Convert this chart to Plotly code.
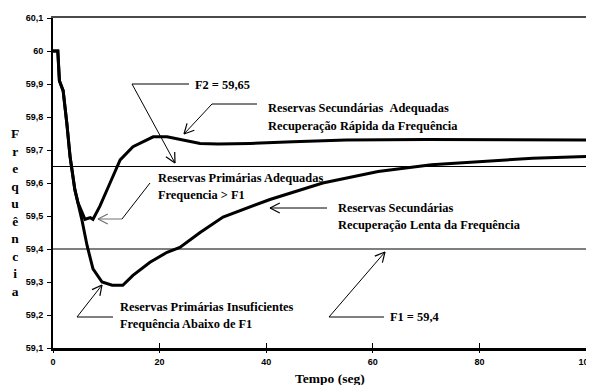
import math
import plotly.graph_objects as go

# ---------------- data ----------------
t_common = [0, 0.9, 1.2, 1.9, 2.6, 3.2, 4.1, 4.7]
f_common = [60.0, 60.0, 59.91, 59.88, 59.78, 59.68, 59.58, 59.54]

t_fast = [6.0, 7.0, 7.5, 8.8, 10.7, 12.6, 15.0, 18.8, 21.4, 24.4, 27.6, 31.0, 37.0, 45.0, 55.0, 70.0, 85.0, 100.0]
f_fast = [59.49, 59.495, 59.49, 59.53, 59.60, 59.67, 59.71, 59.74, 59.74, 59.73, 59.72, 59.718, 59.72, 59.725, 59.73, 59.732, 59.731, 59.73]

t_slow = [5.4, 6.4, 7.5, 9.2, 11.1, 13.1, 15.0, 18.2, 21.4, 23.8, 27.6, 31.9, 40.7, 50.6, 61.0, 71.0, 80.0, 90.0, 100.0]
f_slow = [59.49, 59.41, 59.34, 59.30, 59.29, 59.29, 59.32, 59.36, 59.39, 59.405, 59.45, 59.497, 59.55, 59.60, 59.635, 59.655, 59.665, 59.675, 59.68]

F1 = 59.4
F2 = 59.65

x_ticks = [0, 20, 40, 60, 80, 100]
x_ticktext = ["0", "20", "40", "60", "80", "100"]
y_ticks = [59.1, 59.2, 59.3, 59.4, 59.5, 59.6, 59.7, 59.8, 59.9, 60.0, 60.1]
y_ticktext = ["59,1", "59,2", "59,3", "59,4", "59,5", "59,6", "59,7", "59,8", "59,9", "60", "60,1"]

# ---------------- layout geometry (screen pixels) ----------------
OFF = 8  # default page body margin
W_FIG, H_FIG = 594 - OFF, 385 - OFF
L, R, T, B = 53, 586, 18, 348


def px(x):
    return (x - L) / (R - L)


def py(y):
    return (B - y) / (B - T)


fig = go.Figure()

fig.add_trace(go.Scatter(x=t_common + t_fast, y=f_common + f_fast, mode="lines",
                         line=dict(color="black", width=3), hoverinfo="skip"))
fig.add_trace(go.Scatter(x=t_common + t_slow, y=f_common + f_slow, mode="lines",
                         line=dict(color="black", width=3), hoverinfo="skip"))

shapes = []
for v in (F1, F2):
    shapes.append(dict(type="line", xref="paper", yref="y", x0=0, x1=1, y0=v, y1=v,
                       line=dict(color="black", width=1.2)))


def connector(points, color="black", width=1, seg_colors=None):
    for i in range(len(points) - 1):
        c = seg_colors[i] if seg_colors else color
        (x0, y0), (x1, y1) = points[i], points[i + 1]
        shapes.append(dict(type="line", xref="paper", yref="paper",
                           x0=px(x0), y0=py(y0), x1=px(x1), y1=py(y1),
                           line=dict(color=c, width=width)))
    (sx, sy), (tx, ty) = points[-2], points[-1]
    d = math.hypot(tx - sx, ty - sy)
    ux, uy = (tx - sx) / d, (ty - sy) / d
    ln, th = 11, math.radians(27)
    c = seg_colors[-1] if seg_colors else color
    for s in (1, -1):
        cx = ux * math.cos(s * th) - uy * math.sin(s * th)
        cy = ux * math.sin(s * th) + uy * math.cos(s * th)
        shapes.append(dict(type="line", xref="paper", yref="paper",
                           x0=px(tx), y0=py(ty), x1=px(tx - ln * cx), y1=py(ty - ln * cy),
                           line=dict(color=c, width=1.2)))


connector([(189, 84), (132, 84), (175, 163)])
connector([(257, 104), (212, 104), (184, 134)])
connector([(150, 183), (122, 219), (98, 219)], seg_colors=["black", "#707070"])
connector([(327, 208), (270, 208)])
connector([(113, 317), (77, 317), (102, 285)])
connector([(384, 317), (329, 317), (385, 252)])

serif = "Liberation Serif"
ann = []


def label(text, x, y, size=12.4):
    ann.append(dict(text="<b>" + text + "</b>", xref="paper", yref="paper",
                    x=px(x), y=py(y), xanchor="left", yanchor="middle", showarrow=False,
                    font=dict(family=serif, size=size, color="black")))


label("F2 = 59,65", 193, 85)
label("Reservas Secundárias\u00a0\u00a0Adequadas", 266, 108)
label("Recuperação Rápida da Frequência", 266, 126)
label("Reservas Primárias Adequadas", 156, 178)
label("Frequencia &gt; F1", 156, 195)
label("Reservas Secundárias", 336, 208)
label("Recuperação Lenta da Frequência", 336, 225)
label("Reservas Primárias Insuficientes", 118, 307)
label("Frequência Abaixo de F1", 118, 324)
label("F1 = 59,4", 388, 317)

ann.append(dict(text="<b>" + "<br>".join(list("Frequência")) + "</b>", xref="paper", yref="paper",
                x=px(15), y=py(212), xanchor="center", yanchor="middle", showarrow=False,
                font=dict(family=serif, size=13.5, color="black")))
ann.append(dict(text="<b>Tempo (seg)</b>", xref="paper", yref="paper",
                x=px(330), y=py(378), xanchor="center", yanchor="middle", showarrow=False,
                font=dict(family=serif, size=13.5, color="black")))

tickfont = dict(family="Liberation Sans", size=9, color="black")
blank = dict(showgrid=False, zeroline=False, showticklabels=False)

fig.update_layout(
    width=W_FIG, height=H_FIG,
    margin=dict(l=L - OFF, r=W_FIG - (R - OFF), t=T - OFF, b=H_FIG - (B - OFF), pad=0),
    paper_bgcolor="white", plot_bgcolor="white",
    showlegend=False,
    shapes=shapes, annotations=ann,
    xaxis=dict(range=[0, 100], tickvals=x_ticks, ticktext=["<b>%s</b>" % s for s in x_ticktext],
               ticks="inside", ticklen=5, tickwidth=1.2,
               tickcolor="black", showline=True, linecolor="black", linewidth=2.5,
               showgrid=False, zeroline=False, tickfont=tickfont, ticklabelstandoff=3,
               automargin=False),
    # outside half of the crossing ticks on the bottom axis
    xaxis2=dict(range=[0, 100], overlaying="x", matches="x", tickvals=x_ticks, ticks="outside",
                ticklen=4, tickwidth=1.2, tickcolor="black", showline=False, side="bottom", **blank),
    # top frame line
    xaxis3=dict(range=[0, 100], overlaying="x", matches="x", side="top", showline=True,
                linecolor="#4a4a4a", linewidth=2, ticks="", **blank),
    yaxis=dict(range=[59.1, 60.1], tickvals=y_ticks, ticktext=["<b>%s</b>" % s for s in y_ticktext],
               ticks="outside",
               ticklen=4, tickwidth=1, tickcolor="black", showline=True, linecolor="black",
               linewidth=2, showgrid=False, zeroline=False, tickfont=tickfont, ticklabelstandoff=2,
               automargin=False),
    # right frame line
    yaxis2=dict(range=[59.1, 60.1], overlaying="y", matches="y", side="right", showline=True,
                linecolor="black", linewidth=1.5, ticks="", **blank),
)
fig.add_trace(go.Scatter(x=[None], y=[None], xaxis="x2", yaxis="y", showlegend=False))
fig.add_trace(go.Scatter(x=[None], y=[None], xaxis="x3", yaxis="y2", showlegend=False))

fig.write_html("out.html")
